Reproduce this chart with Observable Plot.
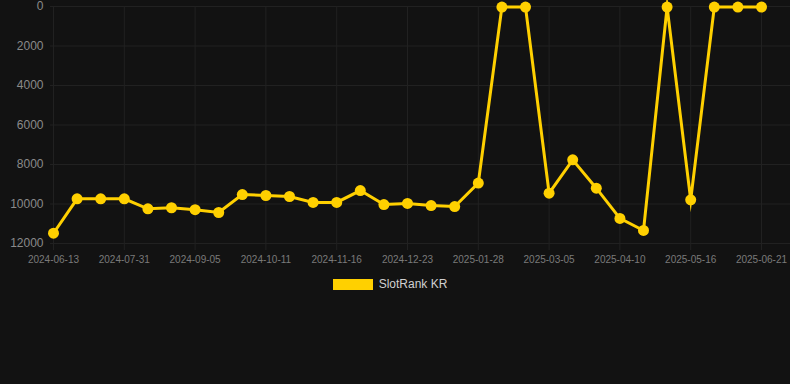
<!DOCTYPE html>
<html>
<head>
<meta charset="utf-8">
<script src="https://cdn.jsdelivr.net/npm/d3@7"></script>
<script src="https://cdn.jsdelivr.net/npm/@observablehq/plot@0.6"></script>
<style>
  html, body { margin: 0; padding: 0; background: #121212; width: 790px; height: 384px; overflow: hidden; }
  #chart svg { display: block; }
  #legend { display: flex; justify-content: center; align-items: center; margin-top: 9px; margin-left: -10px;
            font-family: "Liberation Sans", Arial, sans-serif; font-size: 12px; color: #d0d0d0; }
  #legend .sw { width: 40px; height: 11px; background: #ffd000; margin-right: 6px; }
</style>
</head>
<body>
<div id="chart"></div>
<div id="legend"><div class="sw"></div><span>SlotRank KR</span></div>
<script>
const seriesName = "SlotRank KR";
const dates = [
  "2024-06-13","2024-06-29","2024-07-15","2024-07-31","2024-08-12","2024-08-24",
  "2024-09-05","2024-09-17","2024-09-29","2024-10-11","2024-10-23","2024-11-04",
  "2024-11-16","2024-11-28","2024-12-11","2024-12-23","2025-01-04","2025-01-16",
  "2025-01-28","2025-02-09","2025-02-21","2025-03-05","2025-03-17","2025-03-29",
  "2025-04-10","2025-04-22","2025-05-04","2025-05-16","2025-05-28","2025-06-09",
  "2025-06-21"
];
const ranks = [
  11480, 9740, 9740, 9740, 10245, 10190,
  10290, 10430, 9520, 9570, 9620, 9920,
  9920, 9320, 10030, 9970, 10080, 10130,
  8940, 30, 30, 9450, 7765, 9200,
  10730, 11340, 30, 9790, 30, 30,
  30
];
const xTickLabels = ["2024-06-13","2024-07-31","2024-09-05","2024-10-11","2024-11-16","2024-12-23",
                     "2025-01-28","2025-03-05","2025-04-10","2025-05-16","2025-06-21"];
const yTicks = [0, 2000, 4000, 6000, 8000, 10000, 12000];

const data = dates.map((d, i) => ({date: d, rank: ranks[i]}));
const gridColor = "#212121";
const lineColor = "#ffd000";

const chart = Plot.plot({
  width: 790,
  height: 268,
  marginLeft: 50,
  marginRight: 0,
  marginTop: 6,
  marginBottom: 25,
  style: {background: "#121212", fontFamily: "'Liberation Sans', Arial, sans-serif"},
  x: {type: "point", domain: dates, range: [53, 761], padding: 0, round: false, axis: null},
  y: {domain: [0, 12000], range: [6, 243], axis: null},
  marks: [
    Plot.gridY(yTicks, {stroke: gridColor, strokeOpacity: 1, strokeWidth: 1}),
    Plot.gridX(xTickLabels, {stroke: gridColor, strokeOpacity: 1, strokeWidth: 1}),
    Plot.axisY(yTicks, {tickSize: 0, tickPadding: 7, fontSize: 12, fill: "#8a8a8a", label: null, tickFormat: d => String(d)}),
    Plot.axisX(xTickLabels, {tickSize: 7, tickPadding: 5, fontSize: 10, stroke: gridColor, fill: "#7a7a7a", label: null}),
    Plot.line(data, {x: "date", y: "rank", stroke: lineColor, strokeWidth: 3, strokeLinejoin: "miter", strokeMiterlimit: 10}),
    Plot.dot(data, {x: "date", y: "rank", r: 5.5, fill: lineColor, stroke: "none"})
  ]
});
document.getElementById("chart").appendChild(chart);
</script>
</body>
</html>
